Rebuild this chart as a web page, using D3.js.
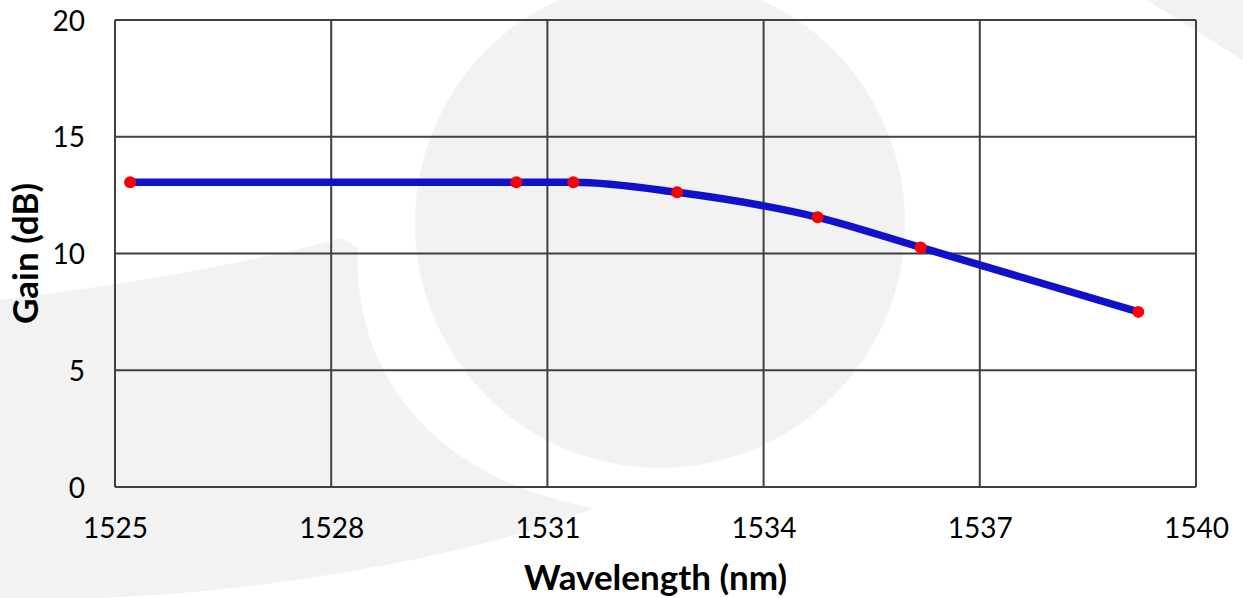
<!DOCTYPE html>
<html>
<head>
<meta charset="utf-8">
<script src="https://cdn.jsdelivr.net/npm/d3@7"></script>
<style>
  body { margin: 0; background: #fff; }
  svg { display: block; font-family: Lato, "Open Sans", sans-serif; }
</style>
</head>
<body>
<svg width="1243" height="598"></svg>
<script>
// data
var wavelength = [1525.21, 1530.57, 1531.36, 1532.8, 1534.75, 1536.18, 1539.2];
var gain = [13.05, 13.05, 13.05, 12.62, 11.55, 10.26, 7.5];
var xTicks = [1525, 1528, 1531, 1534, 1537, 1540];
var yTicks = [0, 5, 10, 15, 20];

var data = wavelength.map(function(w, i) { return { w: w, g: gain[i] }; });

// define margins and canvas
var svg = d3.select("svg"),
  margin = { top: 20, right: 47, bottom: 111, left: 115 },
  width = svg.attr("width") - margin.left - margin.right,
  height = svg.attr("height") - margin.top - margin.bottom;

// faint logo watermark behind the chart
var wm = svg.append("g").attr("fill", "#f2f2f2");
wm.append("path")
  .attr("d", "M0,300 Q200,276 342,238 L358,248 C352,370 430,478 593,508 C500,548 300,590 100,598 L0,598 Z");
wm.append("circle").attr("cx", 660).attr("cy", 223).attr("r", 245);
wm.append("path").attr("d", "M1147,0 L1243,0 L1243,60 Z");

var g = svg.append("g")
  .attr("transform", "translate(" + margin.left + "," + margin.top + ")");

// scales
var x = d3.scaleLinear().domain([1525, 1540]).range([0, width]),
  y = d3.scaleLinear().domain([0, 20]).range([height, 0]);

// gridlines
g.append("g")
  .selectAll("line.vg")
  .data(xTicks)
  .enter().append("line")
  .attr("x1", d => x(d)).attr("x2", d => x(d))
  .attr("y1", 0).attr("y2", height)
  .attr("stroke", "#404040").attr("stroke-width", 2);

g.append("g")
  .selectAll("line.hg")
  .data(yTicks)
  .enter().append("line")
  .attr("x1", 0).attr("x2", width)
  .attr("y1", d => y(d)).attr("y2", d => y(d))
  .attr("stroke", "#404040").attr("stroke-width", 2);

// x axis labels
var xAxis = d3.axisBottom(x).tickValues(xTicks).tickSize(0).tickPadding(0).tickFormat(d3.format("d"));
g.append("g")
  .attr("transform", "translate(0," + height + ")")
  .call(xAxis)
  .call(s => s.select(".domain").remove())
  .selectAll("text")
  .attr("y", 51).attr("dy", 0)
  .attr("fill", "#000")
  .style("font-size", "28px")
  .style("font-family", "Lato, sans-serif");

// y axis labels
var yAxis = d3.axisLeft(y).tickValues(yTicks).tickSize(0).tickPadding(0);
g.append("g")
  .call(yAxis)
  .call(s => s.select(".domain").remove())
  .selectAll("text")
  .attr("x", -30).attr("dy", 10)
  .attr("fill", "#000")
  .style("font-size", "28px")
  .style("font-family", "Lato, sans-serif");

// line
var line = d3.line()
  .x(d => x(d.w))
  .y(d => y(d.g))
  .curve(d3.curveMonotoneX);

g.append("path")
  .datum(data)
  .attr("d", line)
  .attr("fill", "none")
  .attr("stroke", "#1111cc")
  .attr("stroke-width", 7.5)
  .attr("stroke-linejoin", "round");

// markers
g.selectAll("circle.pt")
  .data(data)
  .enter().append("circle")
  .attr("class", "pt")
  .attr("cx", d => x(d.w))
  .attr("cy", d => y(d.g))
  .attr("r", 6)
  .attr("fill", "#ff0000");

// axis titles
svg.append("text")
  .attr("x", margin.left + width / 2)
  .attr("y", 590)
  .attr("text-anchor", "middle")
  .style("font-size", "35px")
  .style("font-weight", "bold")
  .text("Wavelength (nm)");

svg.append("text")
  .attr("transform", "translate(38," + (margin.top + height / 2) + ") rotate(-90)")
  .attr("text-anchor", "middle")
  .style("font-size", "35px")
  .style("font-weight", "bold")
  .text("Gain (dB)");
</script>
</body>
</html>
